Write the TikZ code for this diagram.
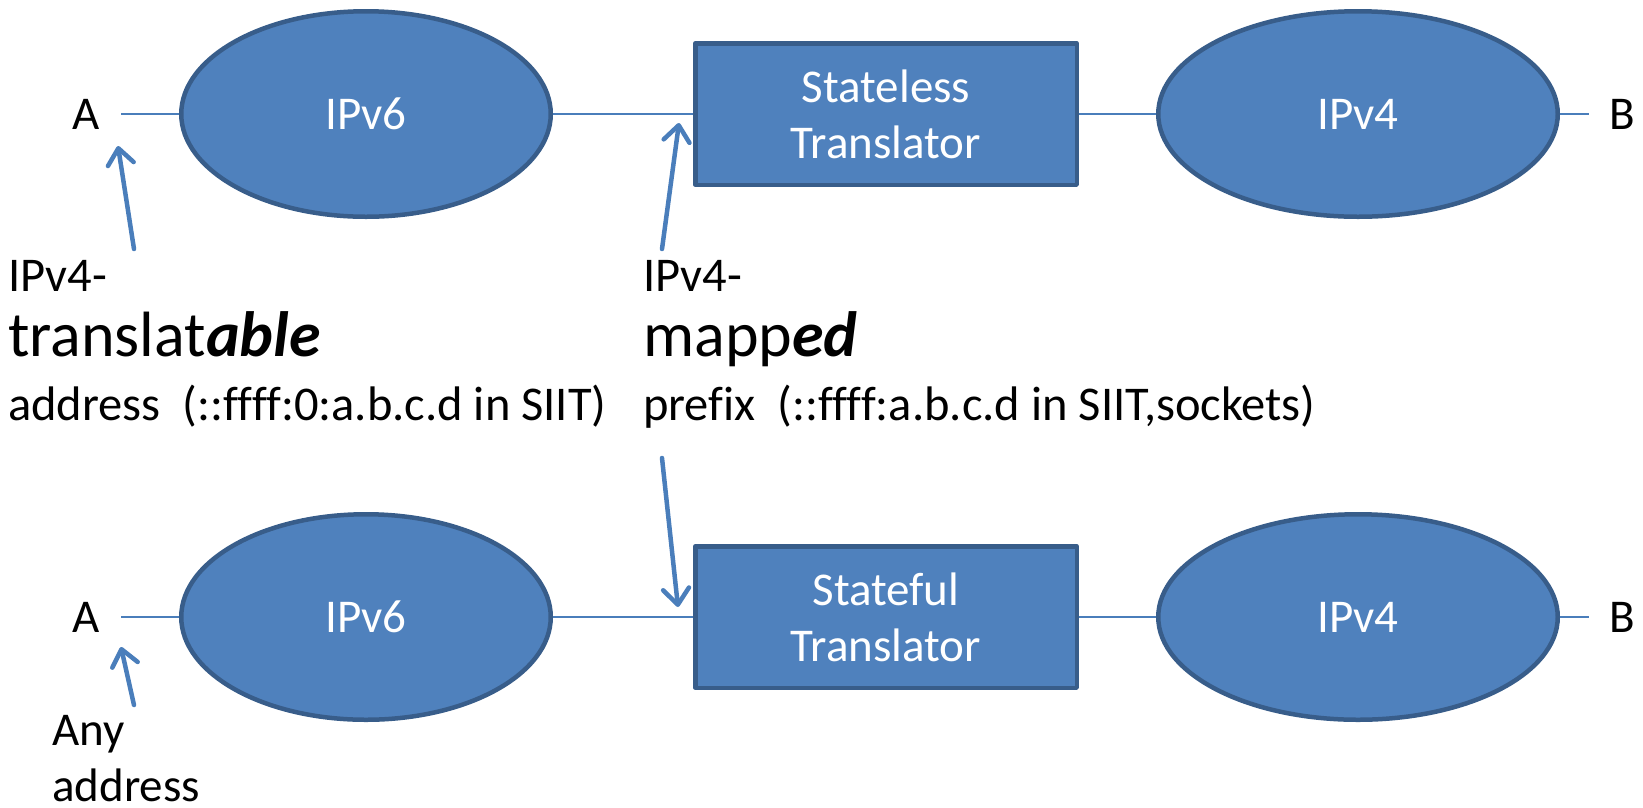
\documentclass[tikz,border=0pt]{standalone}
\usepackage{fontspec}
\setmainfont{Carlito}[Ligatures=CommonOff]
\usepackage{tikz}
\usetikzlibrary{shapes.geometric}
\usetikzlibrary{arrows.meta}
\usetikzlibrary{positioning}

\definecolor{netfill}{HTML}{4F81BD}
\definecolor{netedge}{HTML}{385D8A}
\definecolor{linkblue}{HTML}{4A7EBB}

\newcommand{\netfont}{\fontsize{47}{56}\selectfont}
\newcommand{\notefont}{\fontsize{48.5}{56}\selectfont}
\newcommand{\keyfont}{\fontsize{64}{72}\selectfont}

\tikzset{net/.style={ellipse, draw=netedge, fill=netfill, line width=4.5pt, text=white, font=\netfont, minimum height=205.5pt}}
\tikzset{xlator/.style={rectangle, draw=netedge, fill=netfill, line width=4.5pt, line join=round, text=white, font=\netfont, align=center, minimum width=381.5pt, minimum height=141.5pt}}
\tikzset{host/.style={font=\netfont, inner sep=0pt, outer xsep=21pt}}
\tikzset{note/.style={font=\notefont, inner sep=0pt, anchor=base west}}
\tikzset{link/.style={draw=linkblue, line width=2.2pt}}
\tikzset{pointer/.style={draw=linkblue, line width=4.5pt, line cap=round, -{Straight Barb[length=16pt, width=26pt, round]}}}

\begin{document}
\begin{tikzpicture}[x=1pt, y=-1pt]
\useasboundingbox (0,0) rectangle (1643,807);

% stateless path
\node[host] (A1) at (86.5,114) {A};
\node[net, minimum width=369.5pt] (v6a) at (366,114) {IPv6};
\node[xlator] (siit) at (886,114) {Stateless\\Translator};
\node[net, minimum width=399.5pt] (v4a) at (1358,114) {IPv4};
\node[host] (B1) at (1622.5,114) {B};

\draw[link] (A1.east) -- (A1.east -| v6a.west);
\draw[link] (v6a.east |- siit.west) -- (siit.west);
\draw[link] (siit.east) -- (siit.east -| v4a.west);
\draw[link] (v4a.east |- B1.west) -- (B1.west);

% stateful path
\node[host] (A2) at (86.5,617) {A};
\node[net, minimum width=369.5pt] (v6b) at (366,617) {IPv6};
\node[xlator] (nat64) at (886,617) {Stateful\\Translator};
\node[net, minimum width=399.5pt] (v4b) at (1358,617) {IPv4};
\node[host] (B2) at (1622.5,617) {B};

\draw[link] (A2.east) -- (A2.east -| v6b.west);
\draw[link] (v6b.east |- nat64.west) -- (nat64.west);
\draw[link] (nat64.east) -- (nat64.east -| v4b.west);
\draw[link] (v4b.east |- B2.west) -- (B2.west);

% address notes
\node[note] (tbl1) at (8,291) {IPv4-};
\node[note, font=\keyfont] (tbl2) at (8,356) {translat\textbf{\textit{able}}};
\node[note] (tbl3) at (8,420) {address~~(::ffff:0:a.b.c.d in SIIT)};

\node[note] (map1) at (643,291) {IPv4-};
\node[note, font=\keyfont] (map2) at (643,356) {mapp\textbf{\textit{ed}}};
\node[note] (map3) at (643,420) {prefix~~(::ffff:a.b.c.d in SIIT,sockets)};

\node[font=\netfont, inner sep=0pt, anchor=north west, align=left] (anyaddr) at (52,715) {Any\\address};

% pointers
\coordinate (tblfoot) at (134,249);
\coordinate (tbltip) at (118,146);
\coordinate (mapfoot) at (662,249);
\coordinate (maptip) at (679,123);
\coordinate (maphead) at (662,458);
\coordinate (mapdown) at (678,607);
\coordinate (anyfoot) at (134,705);
\coordinate (anytip) at (121,647);

\draw[pointer] (tblfoot) -- (tbltip);
\draw[pointer] (mapfoot) -- (maptip);
\draw[pointer] (maphead) -- (mapdown);
\draw[pointer] (anyfoot) -- (anytip);
\end{tikzpicture}
\end{document}
